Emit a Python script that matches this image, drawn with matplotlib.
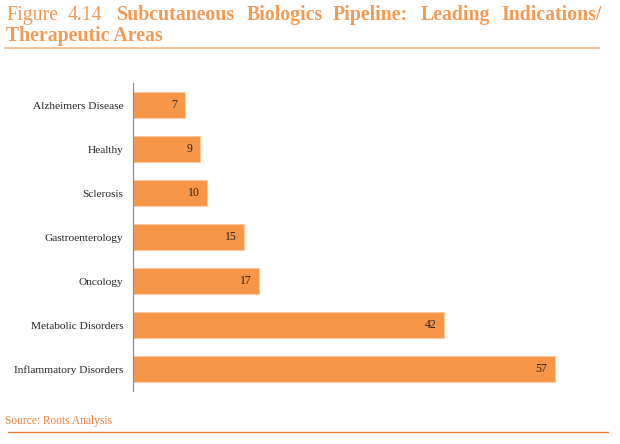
import matplotlib
matplotlib.use("Agg")
import matplotlib.pyplot as plt

categories = ["Alzheimers Disease", "Healthy", "Sclerosis", "Gastroenterology",
              "Oncology", "Metabolic Disorders", "Inflammatory Disorders"]
values = [7, 9, 10, 15, 17, 42, 57]

title_words = ["Figure", "4.14", "Subcutaneous", "Biologics", "Pipeline:", "Leading", "Indications/"]
title_bold = [False, False, True, True, True, True, True]
title_line2 = "Therapeutic Areas"
source = "Source: Roots Analysis"

BAR = "#F79646"
TXT = "#F39A55"
plt.rcParams['font.family'] = ['Liberation Serif', 'DejaVu Serif']

W, H = 620, 444
fig = plt.figure(figsize=(6.2, 4.44), dpi=100)
ax = fig.add_axes([133 / W, 1 - 391 / H, 444 / W, 308 / H])

n = len(categories)
ypos = list(range(n))
ax.barh(ypos, values, height=0.57, color=BAR, edgecolor="#FBCBA6", linewidth=0.8)
ax.set_ylim(n - 0.5, -0.5)
ax.set_xlim(0, 60)
ax.set_yticks(ypos)
ax.set_yticklabels(categories, fontsize=8.2, color="#222222")
ax.tick_params(axis='y', length=0, pad=7)
ax.set_xticks([])
for s in ["top", "right", "bottom"]:
    ax.spines[s].set_visible(False)
ax.spines["left"].set_color("#888888")
ax.spines["left"].set_linewidth(0.8)
for y, v in zip(ypos, values):
    ax.text(v - 1.0, y, str(v), ha="right", va="center", fontsize=8.5, color="#222222")

# title, justified first line
word_x = [6, 68, 117, 247, 333, 421, 501]
for wx, wd, b in zip(word_x, title_words, title_bold):
    fig.text(wx / W, 1 - 20 / H, wd, fontsize=14.3, color=TXT,
             fontweight="bold" if b else "normal", ha="left", va="baseline")
fig.text(6 / W, 1 - 41 / H, title_line2, fontsize=14.3, color=TXT,
         fontweight="bold", ha="left", va="baseline")
fig.add_artist(plt.Line2D([5 / W, 599 / W], [1 - 48.5 / H, 1 - 48.5 / H],
                          color="#F6B889", linewidth=1.2))

fig.text(5 / W, 1 - 421 / H, source, fontsize=8.3, color="#E8803A",
         ha="left", va="center")
fig.add_artist(plt.Line2D([8 / W, 608 / W], [1 - 432 / H, 1 - 432 / H],
                          color="#E8803A", linewidth=1.0))

fig.savefig("out.png", dpi=100)
